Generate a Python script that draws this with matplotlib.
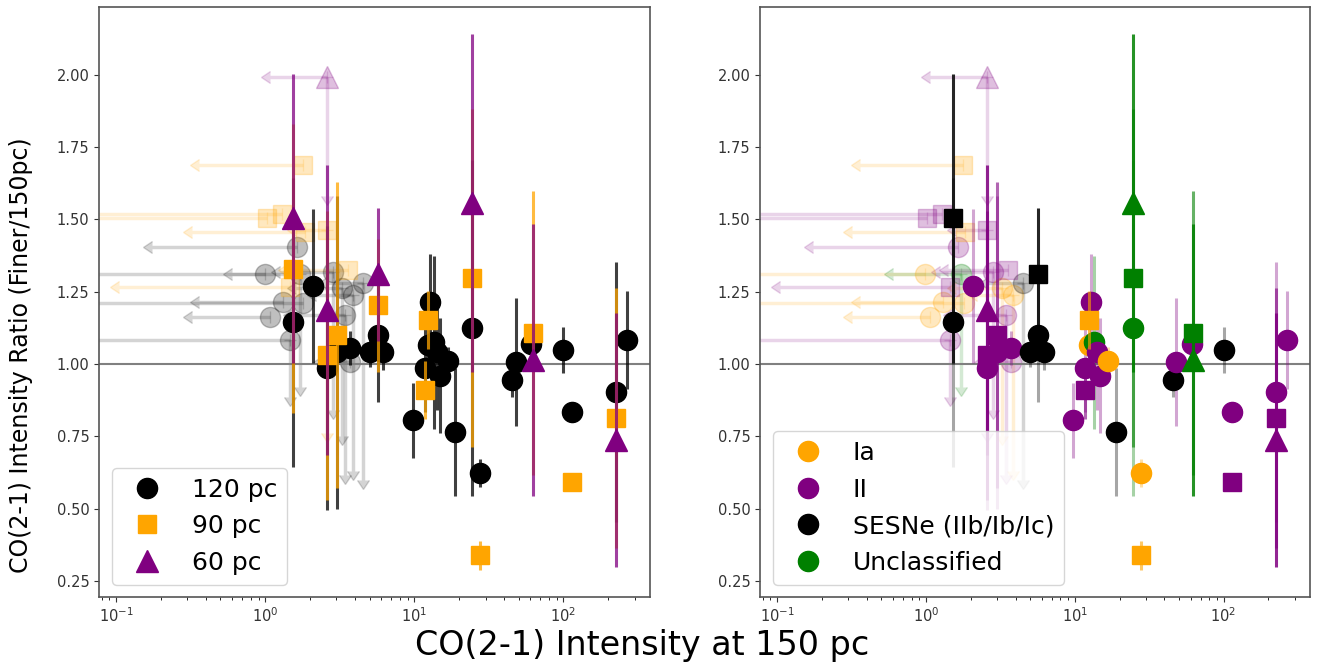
import numpy as np
import matplotlib
matplotlib.use("Agg")
import matplotlib.pyplot as plt
from matplotlib.lines import Line2D
from matplotlib.colors import to_rgba
from matplotlib.ticker import FormatStrFormatter

nan = np.nan

# detected SNe: x = CO(2-1) intensity at 150 pc, ratio (finer/150pc) at 120, 90 and 60 pc
det_x = [1.53, 2.08, 2.59, 3.02, 3.70, 5.00, 5.70, 6.20, 9.8, 11.8, 12.4, 12.8, 13.5, 14.2,
         14.8, 16.8, 18.8, 24.5, 27.7, 45.5, 47.7, 61.0, 62.1, 100.0, 114.0, 225.0, 267.0]
det_type = ['SESNe', 'II', 'II', 'II', 'II', 'SESNe', 'SESNe', 'SESNe', 'II', 'II', 'Ia', 'II',
            'Unclassified', 'II', 'II', 'Ia', 'SESNe', 'Unclassified', 'Ia', 'SESNe', 'II', 'II',
            'Unclassified', 'SESNe', 'II', 'II', 'II']
r120 = [1.145, 1.27, 0.986, 1.04, 1.055, 1.04, 1.10, 1.04, 0.806, 0.985, 1.065, 1.215, 1.075, 1.04,
        0.96, 1.01, 0.765, 1.125, 0.623, 0.945, 1.007, 1.07, nan, 1.048, 0.834, 0.903, 1.083]
e120 = [0.50, 0.265, 0.49, 0.54, 0.06, 0.05, 0.23, 0.06, 0.13, 0.15, 0.10, 0.165, 0.30, 0.20,
        0.20, 0.05, 0.22, 0.58, 0.05, 0.06, 0.22, 0.05, nan, 0.08, 0.03, 0.45, 0.17]
r90 = [1.33, nan, 1.03, 1.10, nan, nan, 1.204, nan, nan, 0.91, 1.152, nan, nan, nan,
       nan, nan, nan, 1.297, 0.339, nan, nan, nan, 1.107, nan, 0.592, 0.813, nan]
e90 = [0.50, nan, 0.50, 0.53, nan, nan, 0.23, nan, nan, 0.10, 0.10, nan, nan, nan,
       nan, nan, nan, 0.585, 0.05, nan, nan, nan, 0.49, nan, 0.03, 0.45, nan]
r60 = [1.505, nan, 1.187, nan, nan, nan, 1.31, nan, nan, nan, nan, nan, nan, nan,
       nan, nan, nan, 1.556, nan, nan, nan, nan, 1.014, nan, nan, 0.737, nan]
e60 = [0.50, nan, 0.50, nan, nan, nan, 0.23, nan, nan, nan, nan, nan, nan, nan,
       nan, nan, nan, 0.585, nan, nan, nan, nan, 0.47, nan, nan, 0.44, nan]

# upper limits at 150 pc (faded): left arrow tip (0 = runs off the axis), optional down arrow tip
ul120_x = [1.63, 0.99, 1.71, 1.31, 1.07, 1.79, 2.84, 3.26, 3.87, 4.52, 3.43, 3.70, 1.46]
ul120_y = [1.405, 1.31, 1.31, 1.215, 1.163, 1.21, 1.32, 1.263, 1.24, 1.28, 1.17, 1.007, 1.083]
ul120_xtip = [0.174, 0.0, 0.60, 0.36, 0.32, 0.0, 1.25, 1.6, 2.2, 2.6, 1.5, 2.4, 0.0]
ul120_ytip = [nan, nan, 0.92, nan, nan, nan, 0.84, 0.75, 0.63, 0.60, 0.615, nan, 0.885]
ul120_type = ['II', 'Ia', 'Unclassified', 'Ia', 'Ia', 'Ia', 'II', 'Ia', 'Ia', 'SESNe', 'II', 'II', 'II']

ul90_x = [1.78, 1.02, 1.29, 1.84, 2.59, 3.57, 1.46]
ul90_y = [1.689, 1.505, 1.52, 1.457, 1.464, 1.325, 1.266]
ul90_xtip = [0.36, 0.0, 0.0, 0.32, 1.6, 1.4, 0.105]
ul90_ytip = [nan, nan, nan, nan, 0.76, nan, nan]
ul90_type = ['Ia', 'II', 'II', 'Ia', 'II', 'II', 'II']

ul60_x = [2.59]
ul60_y = [1.993]
ul60_xtip = [1.07]
ul60_ytip = [1.58]
ul60_type = ['II']

res_labels = ['120 pc', '90 pc', '60 pc']
res_colors = ['black', 'orange', 'purple']
res_markers = ['o', 's', '^']
res_ms = [14.5, 13, 16]
type_labels = ['Ia', 'II', 'SESNe', 'Unclassified']
type_names = {'Ia': 'Ia', 'II': 'II', 'SESNe': 'SESNe (IIb/Ib/Ic)', 'Unclassified': 'Unclassified'}
type_colors = {'Ia': 'orange', 'II': 'purple', 'SESNe': 'black', 'Unclassified': 'green'}

detections = [(r120, e120), (r90, e90), (r60, e60)]
limits = [(ul120_x, ul120_y, ul120_xtip, ul120_ytip, ul120_type),
          (ul90_x, ul90_y, ul90_xtip, ul90_ytip, ul90_type),
          (ul60_x, ul60_y, ul60_xtip, ul60_ytip, ul60_type)]


def draw_limits(ax, k, by_type):
    xs, ys, xtips, ytips, types = limits[k]
    for x, y, xt, yt, t in zip(xs, ys, xtips, ytips, types):
        c = type_colors[t] if by_type else res_colors[k]
        fc = to_rgba(c, 0.17)
        ax.errorbar([x], [y], xerr=[[x - xt], [0]], xuplims=True, fmt='none', color=fc,
                    ecolor=fc, elinewidth=2.5, capsize=4.5, zorder=1)
        if not np.isnan(yt):
            ax.errorbar([x], [y], yerr=[[y - yt], [0]], uplims=True, fmt='none', color=fc,
                        ecolor=fc, elinewidth=2.5, capsize=4.5, zorder=1)
        ax.plot([x], [y], marker=res_markers[k], ms=res_ms[k], ls='none',
                color=c, alpha=0.25, zorder=1.2)


fig = plt.figure(figsize=(13.22, 6.63), dpi=100)
ax1 = fig.add_axes([0.0749, 0.0995, 0.4168, 0.8899])
ax2 = fig.add_axes([0.5749, 0.0995, 0.4160, 0.8899])

# left: coloured by resolution
for k in range(3):
    draw_limits(ax1, k, False)
for k in range(3):
    r, e = detections[k]
    ax1.errorbar(det_x, r, yerr=e, fmt=res_markers[k], ms=res_ms[k], color=res_colors[k],
                 ecolor=to_rgba(res_colors[k], 0.75), elinewidth=2.2, zorder=3 + k)

# right: coloured by SN type; in the original the SESNe 60 pc points carry square markers
# and their 90 pc squares are not shown
bar_alpha = [0.35, 0.6, 0.85]
for k in range(3):
    draw_limits(ax2, k, True)
for k in range(3):
    r, e = detections[k]
    for x, y, err, t in zip(det_x, r, e, det_type):
        if np.isnan(y):
            continue
        if t == 'SESNe' and k == 1:
            continue
        m = 's' if (t == 'SESNe' and k == 2) else res_markers[k]
        ms = res_ms[1] if m == 's' else res_ms[k]
        c = type_colors[t]
        ax2.errorbar([x], [y], yerr=[err], fmt=m, ms=ms, color=c,
                     ecolor=to_rgba(c, bar_alpha[k]), elinewidth=2.2, zorder=3 + k)

for ax in (ax1, ax2):
    ax.axhline(1.0, color='gray', lw=1.5, zorder=2)
    ax.set_xscale('log')
    ax.set_xlim(0.0766, 381)
    ax.set_ylim(0.194, 2.235)
    ax.set_yticks(np.arange(0.25, 2.01, 0.25))
    ax.yaxis.set_major_formatter(FormatStrFormatter('%.2f'))
    ax.tick_params(labelsize=10.5, colors='#333333')
    for s in ax.spines.values():
        s.set_color('#555555')
        s.set_linewidth(1.2)

fig.text(0.016, 0.465, 'CO(2-1) Intensity Ratio (Finer/150pc)', rotation=90,
         ha='center', va='center', fontsize=17)
fig.text(0.486, 0.027, 'CO(2-1) Intensity at 150 pc', ha='center', va='center', fontsize=24)

h1 = [Line2D([], [], marker=res_markers[k], ms=res_ms[k], color=res_colors[k], ls='none')
      for k in range(3)]
ax1.legend(h1, res_labels, loc='lower left', fontsize=18)
h2 = [Line2D([], [], marker='o', ms=res_ms[0], color=type_colors[t], ls='none')
      for t in type_labels]
ax2.legend(h2, [type_names[t] for t in type_labels], loc='lower left', fontsize=18)

fig.savefig('out.png', dpi=100)
